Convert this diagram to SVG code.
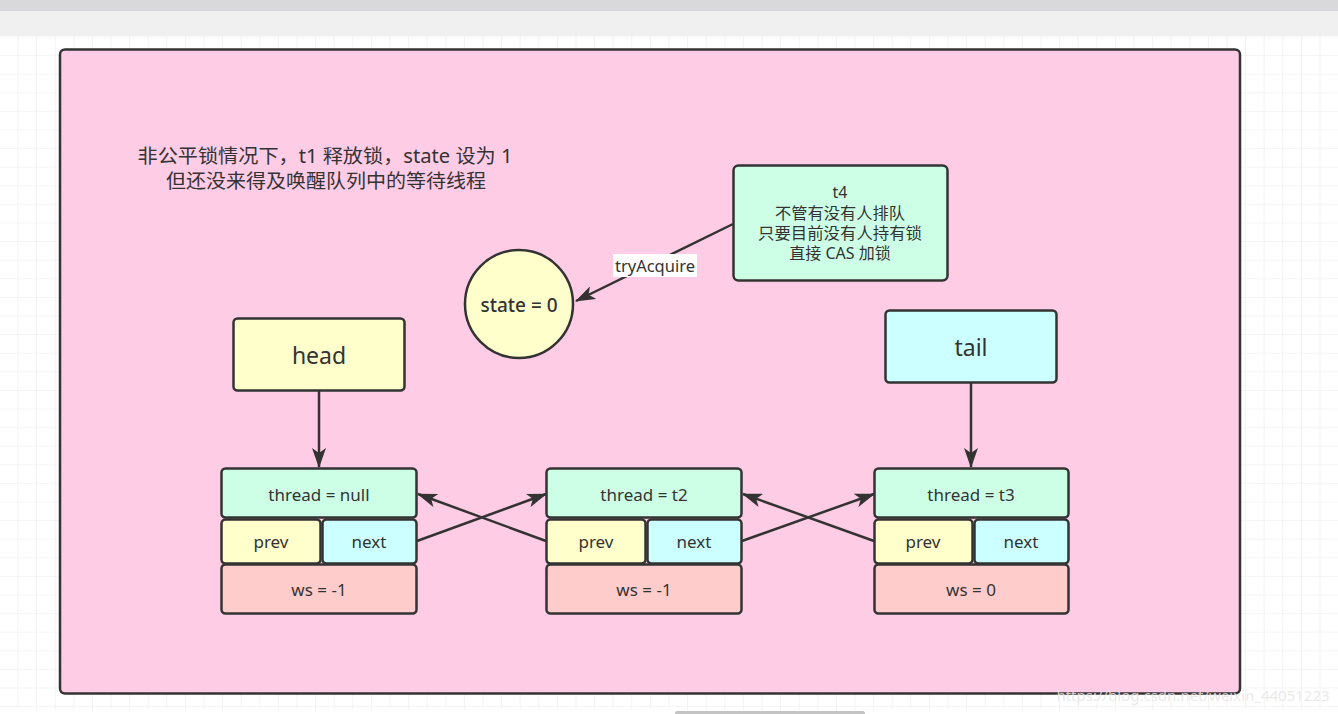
<svg xmlns="http://www.w3.org/2000/svg" width="1338" height="714" viewBox="0 0 1338 714">
<defs>
<pattern id="grid" x="17.5" y="36.5" width="18.6" height="18.6" patternUnits="userSpaceOnUse">
<path d="M0 0 V18.6 M0 0 H18.6" fill="none" stroke="#ececec" stroke-width="1.2"/>
</pattern>
<marker id="arr" viewBox="0 0 20 14" refX="19" refY="7" markerWidth="20" markerHeight="14" markerUnits="userSpaceOnUse" orient="auto">
<path d="M0 0 L20 7 L0 14 L5 7 Z" fill="#333"/>
</marker>
</defs>
<style>
.box{stroke:#333;stroke-width:2.5}
.t{font-family:"Noto Sans","Noto Sans CJK SC",sans-serif;fill:#333;text-anchor:middle;dominant-baseline:central}
.conn{stroke:#333;stroke-width:2.5;fill:none;marker-end:url(#arr)}
.mint{fill:#ccffe6}.yel{fill:#ffffcc}.cyan{fill:#ccffff}.red{fill:#ffcccc}
.f{font-size:17px}
</style>
<rect width="1338" height="714" fill="#ffffff"/>
<rect y="36" width="1338" height="674" fill="url(#grid)"/>
<rect width="1338" height="11" fill="#d9d9dc"/>
<rect y="11" width="1338" height="25" fill="#f0f0f0"/>
<rect x="675" y="711" width="190" height="5" rx="2.5" fill="#c4c4c4"/>

<g id="frame">
<rect x="60" y="49.5" width="1180" height="644" rx="5" fill="#ffcce6" stroke="#333" stroke-width="2.5"/>
</g>
<g id="title">
<text class="t" x="325" y="156" font-size="19" textLength="375" lengthAdjust="spacingAndGlyphs">非公平锁情况下，t1 释放锁，state 设为 1</text>
<text class="t" x="326" y="181" font-size="19" textLength="320" lengthAdjust="spacingAndGlyphs">但还没来得及唤醒队列中的等待线程</text>
</g>

<g id="connectors">
<line class="conn" x1="733" y1="224" x2="576" y2="301"/>
<line class="conn" x1="319" y1="390" x2="319" y2="467"/>
<line class="conn" x1="971" y1="382" x2="971" y2="467"/>
<line class="conn" x1="417" y1="541" x2="546" y2="494"/>
<line class="conn" x1="546" y1="541" x2="418" y2="494"/>
<line class="conn" x1="742" y1="541" x2="874" y2="494"/>
<line class="conn" x1="874" y1="541" x2="743" y2="494"/>
<rect x="613" y="254" width="84" height="23" fill="#ffffff"/>
<text class="t" x="655" y="265" font-size="16.5">tryAcquire</text>
</g>

<g id="t4">
<rect class="box mint" x="733.5" y="165.5" width="214" height="115" rx="5"/>
<text class="t" x="840" y="192" font-size="16">t4</text>
<text class="t" x="840" y="213" font-size="16" textLength="130" lengthAdjust="spacingAndGlyphs">不管有没有人排队</text>
<text class="t" x="840" y="233" font-size="16" textLength="164" lengthAdjust="spacingAndGlyphs">只要目前没有人持有锁</text>
<text class="t" x="840" y="253" font-size="16">直接 CAS 加锁</text>
</g>

<g id="state">
<circle class="box yel" cx="519" cy="304" r="54"/>
<text class="t" x="519" y="305" font-size="19" font-weight="500">state = 0</text>
</g>

<g id="head">
<rect class="box yel" x="233.5" y="318.5" width="171" height="72" rx="4"/>
<text class="t" x="319" y="355" font-size="23">head</text>
</g>

<g id="tail">
<rect class="box cyan" x="885.5" y="310.5" width="171" height="72" rx="4"/>
<text class="t" x="971" y="347" font-size="23">tail</text>
</g>

<g id="node1">
<rect class="box mint" x="221.5" y="468.5" width="195" height="49" rx="4"/>
<text class="t f" x="319" y="494">thread = null</text>
<rect class="box yel" x="221.5" y="519.5" width="99" height="44" rx="4"/>
<text class="t f" x="271" y="541">prev</text>
<rect class="box cyan" x="322.5" y="519.5" width="94" height="44" rx="4"/>
<text class="t f" x="369" y="541">next</text>
<rect class="box red" x="221.5" y="564.5" width="195" height="49" rx="4"/>
<text class="t f" x="319" y="589">ws = -1</text>
</g>

<g id="node2">
<rect class="box mint" x="546.5" y="468.5" width="195" height="49" rx="4"/>
<text class="t f" x="644" y="494">thread = t2</text>
<rect class="box yel" x="546.5" y="519.5" width="99" height="44" rx="4"/>
<text class="t f" x="596" y="541">prev</text>
<rect class="box cyan" x="647.5" y="519.5" width="94" height="44" rx="4"/>
<text class="t f" x="694" y="541">next</text>
<rect class="box red" x="546.5" y="564.5" width="195" height="49" rx="4"/>
<text class="t f" x="644" y="589">ws = -1</text>
</g>

<g id="node3">
<rect class="box mint" x="874.5" y="468.5" width="194" height="49" rx="4"/>
<text class="t f" x="971" y="494">thread = t3</text>
<rect class="box yel" x="874.5" y="519.5" width="98" height="44" rx="4"/>
<text class="t f" x="923" y="541">prev</text>
<rect class="box cyan" x="974.5" y="519.5" width="94" height="44" rx="4"/>
<text class="t f" x="1021" y="541">next</text>
<rect class="box red" x="874.5" y="564.5" width="194" height="49" rx="4"/>
<text class="t f" x="971" y="589">ws = 0</text>
</g>

<text x="1193" y="695" font-size="15" font-family="Noto Sans, sans-serif" text-anchor="middle" dominant-baseline="central" fill="#e6e6e6" fill-opacity="0.85">https://blog.csdn.net/weixin_44051223</text>
</svg>
